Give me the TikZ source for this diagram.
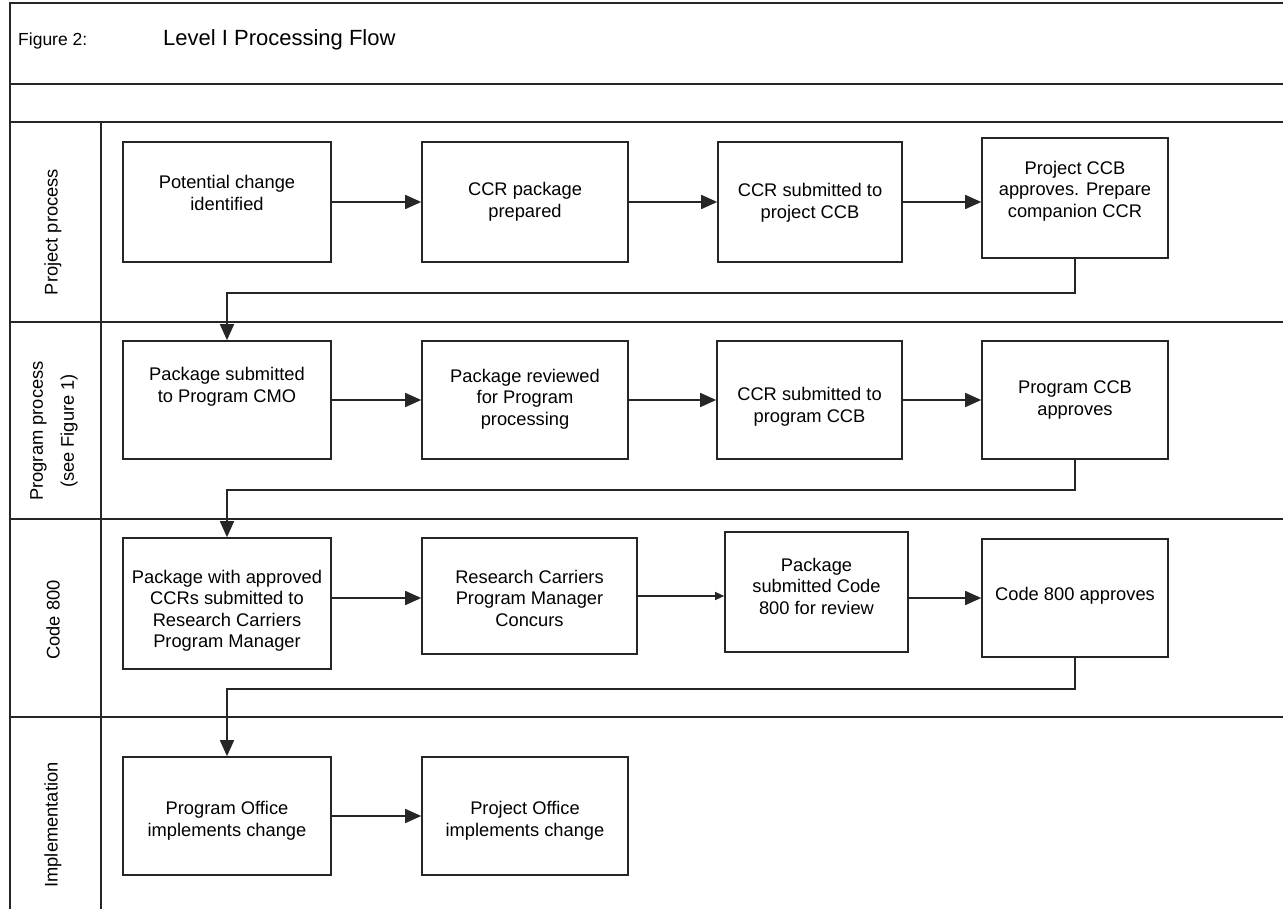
\documentclass[tikz,border=0pt]{standalone}
\usepackage{fontspec}
\setmainfont{Liberation Sans}
\usetikzlibrary{arrows.meta}
\begin{document}
\begin{tikzpicture}[x=1pt,y=-1pt,
  frame/.style={draw=black!85, line width=1.5pt},
  box/.style={draw=black!85, line width=1.6pt, rectangle, inner sep=0pt, fill=white},
  txt/.style={align=center, inner sep=0pt, font=\fontsize{18.3}{21.5}\selectfont},
  lane/.style={rotate=90, align=center, inner sep=0pt, font=\fontsize{18.3}{31}\selectfont},
  arr/.style={draw=black!85, line width=1.6pt, -{Triangle[length=16pt,width=14pt]}},
  thinarr/.style={draw=black!85, line width=1.1pt, -{Triangle[length=9pt,width=8pt]}},
  link/.style={draw=black!85, line width=1.6pt, -{Triangle[length=16pt,width=14pt]}}
]
\useasboundingbox (0,0) rectangle (1283,909);
\fill[white] (0,0) rectangle (1283,909);

% frame and swimlanes
\draw[frame] (1283,3) -- (10,3) -- (10,909);
\draw[frame] (10,84) -- (1283,84);
\draw[frame] (10,122) -- (1283,122);
\draw[frame] (10,322) -- (1283,322);
\draw[frame] (10,519) -- (1283,519);
\draw[frame] (10,717) -- (1283,717);
\draw[frame] (101,122) -- (101,909);

% titles
\node[anchor=west, inner sep=0pt, font=\fontsize{17.5}{20}\selectfont] (fig) at (18,41) {Figure 2:};
\node[anchor=west, inner sep=0pt, font=\fontsize{22}{26}\selectfont] (title) at (163,40) {Level I Processing Flow};

% lane labels
\node[lane] (l1) at (53,232) {Project process};
\node[lane] (l2) at (54,431) {Program process\\(see Figure 1)};
\node[lane] (l3) at (53,620) {Code 800};
\node[lane] (l4) at (53,825) {Implementation};

% boxes
\node[box, minimum width=208pt, minimum height=120pt] (b1) at (227,202) {};
\node[box, minimum width=206pt, minimum height=120pt] (b2) at (525,202) {};
\node[box, minimum width=184pt, minimum height=120pt] (b3) at (810,202) {};
\node[box, minimum width=186pt, minimum height=120pt] (b4) at (1075,198) {};
\node[box, minimum width=208pt, minimum height=118pt] (b5) at (227,400) {};
\node[box, minimum width=206pt, minimum height=118pt] (b6) at (525,400) {};
\node[box, minimum width=185pt, minimum height=118pt] (b7) at (809.5,400) {};
\node[box, minimum width=186pt, minimum height=118pt] (b8) at (1075,400) {};
\node[box, minimum width=208pt, minimum height=131pt] (b9) at (227,603.5) {};
\node[box, minimum width=215pt, minimum height=116pt] (b10) at (529.5,596) {};
\node[box, minimum width=183pt, minimum height=120pt] (b11) at (816.5,592) {};
\node[box, minimum width=186pt, minimum height=118pt] (b12) at (1075,598) {};
\node[box, minimum width=208pt, minimum height=118pt] (b13) at (227,816) {};
\node[box, minimum width=206pt, minimum height=118pt] (b14) at (525,816) {};

% box texts
\node[txt] (t1) at (227,193) {Potential change\\identified};
\node[txt] (t2) at (525,202) {CCR package\\prepared};
\node[txt] (t3) at (810,203) {CCR submitted to\\project CCB};
\node[txt] (t4) at (1075,191) {Project CCB\\approves. Prepare\\companion CCR};
\node[txt] (t5) at (227,387) {Package submitted\\to Program CMO};
\node[txt] (t6) at (525,399) {Package reviewed\\for Program\\processing};
\node[txt] (t7) at (809.5,407) {CCR submitted to\\program CCB};
\node[txt] (t8) at (1075,400) {Program CCB\\approves};
\node[txt] (t9) at (227,611) {Package with approved\\CCRs submitted to\\Research Carriers\\Program Manager};
\node[txt] (t10) at (529.5,598) {Research Carriers\\Program Manager\\Concurs};
\node[txt] (t11) at (816.5,586) {Package\\submitted Code\\800 for review};
\node[txt] (t12) at (1075,596) {Code 800 approves};
\node[txt] (t13) at (227,821) {Program Office\\implements change};
\node[txt] (t14) at (525,821) {Project Office\\implements change};

% horizontal flow
\draw[arr] (b1.east) -- (b1.east -| b2.west);
\draw[arr] (b2.east) -- (b2.east -| b3.west);
\draw[arr] (b3.east) -- (b3.east -| b4.west);
\draw[arr] (b5.east) -- (b5.east -| b6.west);
\draw[arr] (b6.east) -- (b6.east -| b7.west);
\draw[arr] (b7.east) -- (b7.east -| b8.west);
\draw[arr] (b9.east |- b12.center) -- (b10.west |- b12.center);
\draw[thinarr] (b10.east) -- (b10.east -| b11.west);
\draw[arr] (b11.east |- b12.center) -- (b12.west);
\draw[arr] (b13.east) -- (b13.east -| b14.west);

% lane-to-lane links
\draw[link] (b4.south) -- ++(0,34) -| (b5.north);
\draw[link] (b8.south) -- ++(0,30) -| (b9.north);
\draw[link] (b12.south) -- ++(0,31) -| (b13.north);
\end{tikzpicture}
\end{document}
